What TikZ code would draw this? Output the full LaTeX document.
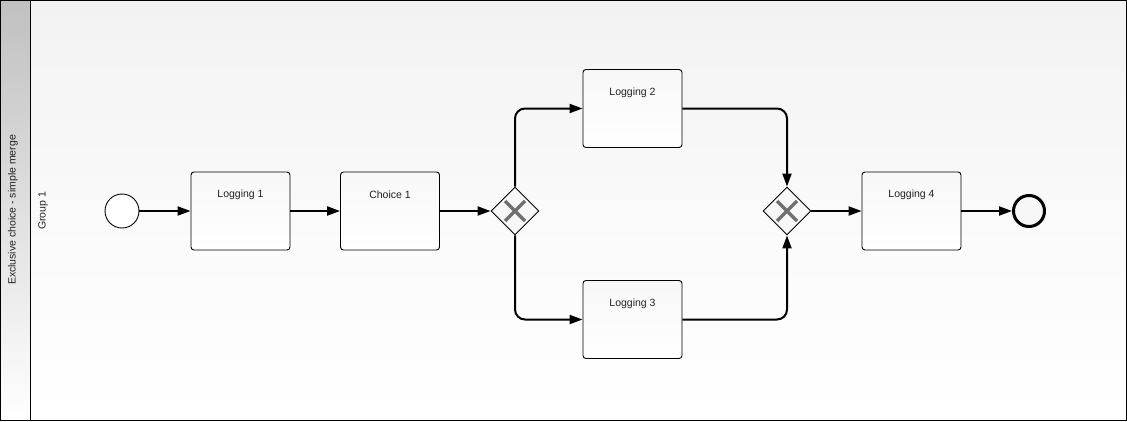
\documentclass[tikz,border=0pt]{standalone}
\usepackage{fontspec}
\setmainfont{Liberation Sans}
\usetikzlibrary{arrows.meta,shapes.geometric}
\definecolor{lanetop}{HTML}{F2F2F2}
\definecolor{headtop}{HTML}{C0C0C0}
\definecolor{xgray}{HTML}{707070}
\definecolor{txt}{HTML}{222222}
\tikzset{
  task/.style={draw=black, line width=0.9pt, rounded corners=3pt, minimum width=99pt, minimum height=78pt,
    top color=white!97!black, bottom color=white, inner sep=0pt},
  tasklabel/.style={font=\fontsize{10.5}{12}\selectfont, text=txt},
  startev/.style={circle, draw=black, line width=0.9pt, minimum size=34pt, inner sep=0pt, fill=white},
  endev/.style={circle, draw=black, line width=3pt, minimum size=31pt, inner sep=0pt, fill=white!97!black},
  gw/.style={diamond, draw=black, line width=0.9pt, minimum width=48pt, minimum height=48pt, inner sep=0pt, fill=white!97!black},
  flow/.style={line width=2pt, -{Triangle[length=13pt,width=9pt]}, rounded corners=10pt},
  xmark/.style={xgray, line width=3.5pt},
}
\begin{document}
\begin{tikzpicture}[x=1pt,y=-1pt]
\useasboundingbox (0,0) rectangle (1127,421);
% lane
\shade[top color=lanetop, bottom color=white, middle color=white!98!black] (30,0) rectangle (1127,421);
\shade[top color=headtop, bottom color=white] (0,0) rectangle (30,421);
\draw[line width=1pt] (0.5,0.5) rectangle (1126.5,420.5);
\draw[line width=1pt] (30.5,0.5) -- (30.5,420.5);
\node[rotate=90, font=\fontsize{10.5}{12}\selectfont, text=txt] (pool) at (13,210) {Exclusive choice - simple merge};
\node[rotate=90, font=\fontsize{10.5}{12}\selectfont, text=txt] (lane) at (43,211) {Group 1};
% nodes
\node[startev] (s) at (122,211) {};
\node[task] (l1) at (240.5,211) {};
\node[tasklabel] (l1t) at (240.5,195) {Logging 1};
\node[task] (c1) at (390,211) {};
\node[tasklabel] (c1t) at (390,195) {Choice 1};
\node[gw] (g1) at (515,211) {};
\node[task] (l2) at (632.5,108.5) {};
\node[tasklabel] (l2t) at (632.5,93) {Logging 2};
\node[task] (l3) at (632.5,319.5) {};
\node[tasklabel] (l3t) at (632.5,304) {Logging 3};
\node[gw] (g2) at (787,211) {};
\node[task] (l4) at (911.5,211) {};
\node[tasklabel] (l4t) at (911.5,195) {Logging 4};
\node[endev] (e) at (1029,211) {};
% X marks
\foreach \g in {g1,g2}{
  \draw[xmark] ([shift={(-10,-10)}]\g.center) -- ([shift={(10,10)}]\g.center);
  \draw[xmark] ([shift={(-10,10)}]\g.center) -- ([shift={(10,-10)}]\g.center);
}
% flows
\draw[flow] (s) -- (l1);
\draw[flow] (l1) -- (c1);
\draw[flow] (c1) -- (g1);
\draw[flow] (g1.north) |- (l2.west);
\draw[flow] (g1.south) |- (l3.west);
\draw[flow] (l2.east) -| (g2.north);
\draw[flow] (l3.east) -| (g2.south);
\draw[flow] (g2) -- (l4);
\draw[flow] (l4) -- (e);
\end{tikzpicture}
\end{document}
